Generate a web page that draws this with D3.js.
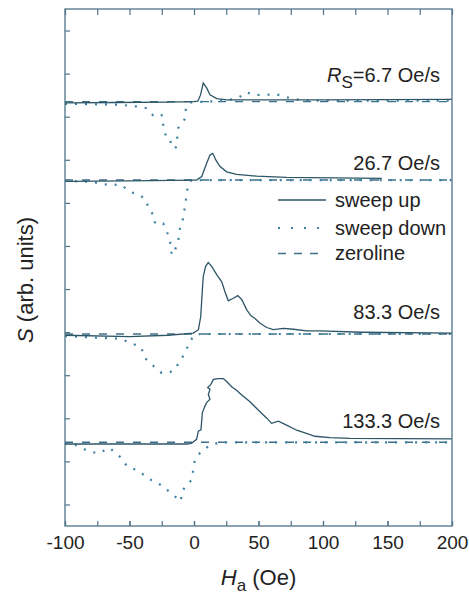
<!DOCTYPE html>
<html>
<head>
<meta charset="utf-8">
<script src="https://cdn.jsdelivr.net/npm/d3@7"></script>
<style>
  html, body { margin: 0; padding: 0; background: #fff; }
  svg text { font-family: "Liberation Sans", Arial, sans-serif; fill: #222; }
</style>
</head>
<body>
<svg id="chart" width="469" height="597"></svg>
<script>
// ---------- data ----------
const xTickLabels = [-100, -50, 0, 50, 100, 150, 200];
const xMinorTicks = [-100, -75, -50, -25, 0, 25, 50, 75, 100, 125, 150, 175, 200];
const yTicks = [0.5, 1.5, 2.5, 3.5, 4.5, 5.5, 6.5, 7.5, 8.5, 9.5, 10.5, 11.5];
const rateLabels = ["6.7 Oe/s", "26.7 Oe/s", "83.3 Oe/s", "133.3 Oe/s"];
const offsets = [9.85, 8.03, 4.457, 1.943];   // vertical offset of each trace (arb. units)
const legendLabels = ["sweep up", "sweep down", "zeroline"];

// [H (Oe), S (arb. units, relative to its zeroline)]
const up1 = [[-100,-0.03],[-60,-0.02],[-20,-0.01],[0,0],[3,0.01],[5,0.15],[7.2,0.43],[9.8,0.32],[12.4,0.16],[17.6,0.07],[25,0.04],[40,0.04],[100,0.04],[200,0.05]];
const down1 = [[-100,-0.05],[-80,-0.06],[-57,-0.07],[-49.6,-0.1],[-40.5,-0.12],[-36,-0.16],[-32,-0.31],[-27.6,-0.27],[-24.3,-0.33],[-23.8,-0.58],[-21.7,-0.8],[-18.6,-0.85],[-17.3,-1.07],[-14,-1.06],[-12.9,-0.82],[-12.1,-0.61],[-8.3,-0.47],[-7,-0.39],[-6.2,-0.13],[-3,-0.02],[10,0],[25,0.02],[35,0.1],[40.3,0.22],[46,0.16],[54.5,0.15],[62.8,0.18],[71.8,0.1],[80,0.05],[90,0.02],[200,0.02]];

const up2 = [[-100,-0.03],[-50,-0.02],[0,0],[2,0],[6,0.08],[9.8,0.39],[12.4,0.58],[14.5,0.62],[17,0.46],[20,0.32],[25.3,0.19],[33,0.13],[48.6,0.09],[71.8,0.06],[145.5,0.04]];
const down2 = [[-100,-0.02],[-80,-0.04],[-65,-0.12],[-57,-0.1],[-49.6,-0.27],[-42.4,-0.35],[-38,-0.43],[-34,-0.73],[-31,-0.81],[-30.2,-1.01],[-23.8,-1.01],[-19.9,-1.28],[-18,-1.51],[-17.3,-1.74],[-14.7,-1.62],[-12.1,-1.39],[-10.9,-1.12],[-8.8,-0.93],[-7,-0.62],[-5.7,-0.35],[-4.9,-0.16],[-3,-0.02],[0,0],[200,0]];

const up3 = [[-100,-0.03],[-50,-0.06],[-20,-0.03],[-0.5,0.02],[3.4,0.1],[5.2,0.4],[6.5,1.03],[7.2,1.34],[9,1.57],[11.1,1.66],[13.7,1.57],[17.6,1.38],[21.5,1.21],[24,0.98],[26.6,0.77],[30.5,0.83],[33.9,0.89],[37,0.8],[40.9,0.56],[44.2,0.42],[47.3,0.36],[51.2,0.25],[56.4,0.15],[61.5,0.1],[69.3,0.13],[77,0.11],[87.4,0.07],[97.7,0.07],[130,0.04],[200,0.02]];
const down3 = [[-100,-0.05],[-74,-0.09],[-57,-0.11],[-49.6,-0.2],[-41,-0.31],[-38,-0.56],[-31.5,-0.74],[-25,-0.91],[-16.5,-0.87],[-10.3,-0.62],[-6.2,-0.37],[-2.6,-0.15],[0,-0.03],[5,0],[200,0]];

const up4 = [[-100,-0.04],[-50,-0.04],[-5,-0.04],[-1.8,-0.02],[2,0.07],[3.4,0.26],[5.4,0.29],[6.5,0.69],[8.5,0.84],[9.8,0.92],[12.4,1.0],[11.1,1.11],[12.4,1.23],[10.6,1.27],[13.2,1.35],[15,1.46],[18.8,1.48],[22.7,1.48],[25.3,1.41],[29.2,1.29],[33,1.21],[37,1.1],[43.4,0.94],[49.8,0.75],[56.4,0.56],[60.2,0.44],[65.4,0.49],[71.8,0.4],[79.6,0.28],[86,0.22],[93.8,0.14],[105.4,0.11],[121,0.09],[200,0.08]];
const down4 = [[-100,-0.02],[-91,-0.07],[-82.4,-0.2],[-74.2,-0.26],[-65.6,-0.13],[-57.9,-0.32],[-51.7,-0.56],[-43.2,-0.66],[-34.9,-0.85],[-25.8,-0.99],[-17.8,-1.18],[-10.3,-1.37],[-9,-1.12],[-1.8,-0.87],[-0.5,-0.62],[0.8,-0.39],[6,-0.2],[12.4,-0.07],[20,0],[200,0]];

const zeroline = [[-100,0],[200,0]];

const ups = [up1, up2, up3, up4];
const downs = [down1, down2, down3, down4];

// ---------- layout ----------
const svg = d3.select("#chart");
const L = 65, R = 452, T = 9, B = 526;
const x = d3.scaleLinear().domain([-100, 200]).range([L, R]);
const y = d3.scaleLinear().domain([0, 12]).range([B, T]);

const frameColor = "#4f7488";
const upColor = "#2c5566";
const zeroColor = "#3c7089";
const downColor = "#3b7fa3";

// traces
const lineGen = off => d3.line().x(d => x(d[0])).y(d => y(d[1] + off));
const g = svg.append("g");

offsets.forEach((off, i) => {
  g.append("path").attr("d", lineGen(off)(zeroline))
    .attr("fill", "none").attr("stroke", zeroColor).attr("stroke-width", 1.4)
    .attr("stroke-dasharray", "8,9");
  g.append("path").attr("d", lineGen(off)(downs[i]))
    .attr("fill", "none").attr("stroke", downColor).attr("stroke-width", 2.2)
    .attr("stroke-dasharray", "2,8");
  g.append("path").attr("d", lineGen(off)(ups[i]))
    .attr("fill", "none").attr("stroke", upColor).attr("stroke-width", 1.3);
});

// frame
svg.append("rect").attr("x", L).attr("y", T).attr("width", R - L).attr("height", B - T)
  .attr("fill", "none").attr("stroke", frameColor).attr("stroke-width", 1.3);

// axes
function styleAxis(sel) {
  sel.select(".domain").remove();
  sel.selectAll(".tick line").attr("stroke", frameColor).attr("stroke-width", 1.2);
}
svg.append("g").attr("transform", `translate(0,${B})`)
  .call(d3.axisBottom(x).tickValues(xMinorTicks).tickSize(-5).tickFormat(""))
  .call(styleAxis);
const xAx = svg.append("g").attr("transform", `translate(0,${B})`)
  .call(d3.axisBottom(x).tickValues(xTickLabels).tickSize(-5).tickPadding(10).tickFormat(d => String(d)))
  .call(styleAxis);
xAx.selectAll("text").attr("font-size", 19).attr("fill", "#222")
  .style("font-family", "'Liberation Sans', Arial, sans-serif");
svg.append("g").attr("transform", `translate(0,${T})`)
  .call(d3.axisTop(x).tickValues(xMinorTicks).tickSize(-6).tickFormat(""))
  .call(styleAxis);
svg.append("g").attr("transform", `translate(${L},0)`)
  .call(d3.axisLeft(y).tickValues(yTicks).tickSize(-5).tickFormat(""))
  .call(styleAxis);

// axis titles
const xt = svg.append("text").attr("x", (L + R) / 2).attr("y", 585)
  .attr("text-anchor", "middle").attr("font-size", 22);
xt.append("tspan").attr("font-style", "italic").text("H");
xt.append("tspan").attr("font-size", 17).attr("dy", 6).text("a");
xt.append("tspan").attr("dy", -6).text(" (Oe)");

const yt = svg.append("text").attr("transform", "translate(33,280) rotate(-90)")
  .attr("text-anchor", "middle").attr("font-size", 22);
yt.append("tspan").attr("font-style", "italic").text("S");
yt.append("tspan").text(" (arb. units)");

// rate labels
const labelLift = [19.5, 10, 14.7, 14];
rateLabels.forEach((lab, i) => {
  const t = svg.append("text").attr("x", 440).attr("y", y(offsets[i]) - labelLift[i])
    .attr("text-anchor", "end").attr("font-size", 20);
  if (i === 0) {
    t.append("tspan").attr("font-style", "italic").text("R");
    t.append("tspan").attr("font-size", 17).attr("dy", 6).text("S");
    t.append("tspan").attr("dy", -6).text("=" + lab);
  } else {
    t.text(lab);
  }
});

// legend
const legY = [200, 228, 253.5];
const legStyles = [
  { color: upColor, dash: null, w: 1.3 },
  { color: downColor, dash: "2,11", w: 2.2 },
  { color: zeroColor, dash: "8,8", w: 1.4 }
];
legendLabels.forEach((lab, i) => {
  const ln = svg.append("line").attr("x1", 278).attr("x2", 326)
    .attr("y1", legY[i]).attr("y2", legY[i])
    .attr("stroke", legStyles[i].color).attr("stroke-width", legStyles[i].w);
  if (legStyles[i].dash) ln.attr("stroke-dasharray", legStyles[i].dash);
  svg.append("text").attr("x", 335).attr("y", legY[i] + 6.8)
    .attr("font-size", 20).text(lab);
});
</script>
</body>
</html>
